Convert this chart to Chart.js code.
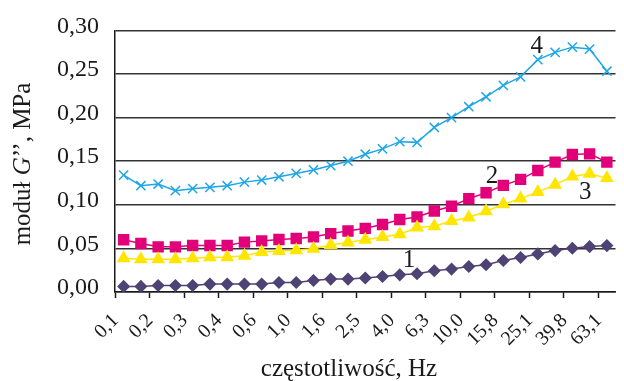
<!DOCTYPE html>
<html lang="pl">
<head>
<meta charset="utf-8">
<title>moduł G'' – częstotliwość</title>
<script src="https://cdn.jsdelivr.net/npm/chart.js@4.4.1/dist/chart.umd.min.js"></script>
<style>
  html, body { margin: 0; padding: 0; background: #ffffff; }
  #wrap { width: 624px; height: 381px; }
</style>
</head>
<body>
<div id="wrap"><canvas id="chart" width="624" height="381"></canvas></div>
<script>
// Frequency steps (Hz), 0.1 decade apart
const frequencies = [0.1, 0.13, 0.16, 0.2, 0.25, 0.32, 0.4, 0.5, 0.63, 0.79,
  1.0, 1.26, 1.58, 2.0, 2.51, 3.16, 3.98, 5.01, 6.31, 7.94,
  10.0, 12.6, 15.8, 20.0, 25.1, 31.6, 39.8, 50.1, 63.1];

// Axis labels shown on every second frequency step
const tickLabels = ['0,1', '0,2', '0,3', '0,4', '0,6', '1,0', '1,6', '2,5', '4,0',
  '6,3', '10,0', '15,8', '25,1', '39,8', '63,1'];

// Loss modulus G'' (MPa), curves 1–4
const series1 = [0.0064, 0.0064, 0.0075, 0.0075, 0.0075, 0.0091, 0.0091, 0.0091, 0.0091, 0.0109,
  0.0109, 0.0132, 0.0148, 0.0148, 0.0160, 0.0178, 0.0197, 0.0209, 0.0243, 0.0263,
  0.0292, 0.0312, 0.0361, 0.0395, 0.0437, 0.0475, 0.0502, 0.0521, 0.0532];
const series2 = [0.0600, 0.0557, 0.0518, 0.0518, 0.0534, 0.0534, 0.0534, 0.0572, 0.0586, 0.0602,
  0.0614, 0.0632, 0.0670, 0.0700, 0.0730, 0.0774, 0.0831, 0.0861, 0.0929, 0.0983,
  0.1071, 0.1139, 0.1223, 0.1291, 0.1394, 0.1489, 0.1576, 0.1584, 0.1489];
const series3 = [0.0386, 0.0375, 0.0375, 0.0375, 0.0386, 0.0398, 0.0398, 0.0416, 0.0458, 0.0469,
  0.0480, 0.0495, 0.0538, 0.0567, 0.0600, 0.0632, 0.0663, 0.0740, 0.0755, 0.0815,
  0.0854, 0.0926, 0.1006, 0.1071, 0.1146, 0.1231, 0.1325, 0.1356, 0.1306];
const series4 = [0.1340, 0.1219, 0.1238, 0.1162, 0.1185, 0.1200, 0.1219, 0.1260, 0.1284, 0.1321,
  0.1360, 0.1400, 0.1450, 0.1500, 0.1580, 0.1641, 0.1724, 0.1716, 0.1887, 0.2000,
  0.2125, 0.2239, 0.2369, 0.2467, 0.2665, 0.2748, 0.2808, 0.2786, 0.2532];

const curveNames = ['1', '2', '3', '4'];
const yTitleParts = [['moduł ', false], ['G', true], ['’’, MPa', false]];
const xTitle = 'częstotliwość, Hz';

const SERIF = "'Liberation Serif', 'DejaVu Serif', serif";
const INK = '#1a1a1a';

// Curve numbers, axis titles (with italic G) drawn on top of the chart
const annotate = {
  id: 'annotate',
  afterDraw(chart) {
    const ctx = chart.ctx;
    const xs = chart.scales.x, ys = chart.scales.y;
    ctx.save();
    ctx.fillStyle = INK;

    // curve numbers next to a chosen point of each curve
    ctx.font = '25px ' + SERIF;
    ctx.textAlign = 'center';
    ctx.textBaseline = 'middle';
    const tags = [
      [0, series1, 17, -8, -13],
      [1, series2, 21, 6, -16],
      [2, series3, 26, 13, 16],
      [3, series4, 24, -1, -13]
    ];
    tags.forEach(([n, data, i, dx, dy]) => {
      ctx.fillText(curveNames[n], xs.getPixelForValue(i) + dx, ys.getPixelForValue(data[i]) + dy);
    });

    // x axis title
    ctx.font = '25px ' + SERIF;
    ctx.textBaseline = 'alphabetic';
    ctx.fillText(xTitle, 349, 376);

    // y axis title, rotated, mixed upright/italic
    ctx.translate(23, 164);
    ctx.rotate(-Math.PI / 2);
    const fontFor = it => (it ? 'italic ' : '') + '25px ' + SERIF;
    let total = 0;
    yTitleParts.forEach(([t, it]) => { ctx.font = fontFor(it); total += ctx.measureText(t).width; });
    let x = -total / 2;
    ctx.textAlign = 'left';
    ctx.textBaseline = 'middle';
    yTitleParts.forEach(([t, it]) => {
      ctx.font = fontFor(it);
      ctx.fillText(t, x, 0);
      x += ctx.measureText(t).width;
    });
    ctx.restore();
  }
};

function lineSet(label, data, color, style, radius) {
  return {
    label, data,
    borderColor: color, backgroundColor: color,
    borderWidth: 1.5,
    pointStyle: style, pointRadius: radius,
    pointBackgroundColor: color, pointBorderColor: color, pointBorderWidth: 1.5,
    tension: 0, fill: false
  };
}

new Chart(document.getElementById('chart'), {
  type: 'line',
  data: {
    labels: frequencies,
    datasets: [
      lineSet(curveNames[0], series1, '#4e4374', 'rectRot', 5.5),
      lineSet(curveNames[2], series3, '#ffe600', 'triangle', 6.5),
      lineSet(curveNames[1], series2, '#e2007a', 'rect', 7),
      lineSet(curveNames[3], series4, '#1ea6e6', 'crossRot', 6.5)
    ]
  },
  options: {
    responsive: false,
    animation: false,
    devicePixelRatio: 1,
    layout: { padding: { top: 29, right: 0, left: 0, bottom: 0 } },
    plugins: { legend: { display: false }, tooltip: { enabled: false } },
    scales: {
      x: {
        type: 'category',
        offset: true,
        grid: {
          display: true,
          drawOnChartArea: false,
          offset: true,
          tickLength: 6,
          tickWidth: 1.5,
          tickColor: c => (c.index % 2 === 0 ? INK : 'rgba(0,0,0,0)')
        },
        border: { color: INK, width: 1.5 },
        ticks: {
          autoSkip: false,
          minRotation: 45,
          maxRotation: 45,
          padding: 11,
          labelOffset: -8,
          color: INK,
          font: { family: SERIF, size: 20 },
          callback: (v, i) => (i % 2 === 0 ? tickLabels[i / 2] : '')
        },
        afterFit: s => { s.height = 89; s.paddingLeft = 0; s.paddingRight = 0; }
      },
      y: {
        min: 0,
        max: 0.3,
        grid: { color: '#333333', lineWidth: 1.5, drawTicks: false },
        border: { color: INK, width: 1.5 },
        ticks: {
          stepSize: 0.05,
          padding: 16,
          labelOffset: -4,
          color: INK,
          font: { family: SERIF, size: 24 },
          callback: v => v.toFixed(2).replace('.', ',')
        },
        afterFit: s => { s.width = 115; }
      }
    }
  },
  plugins: [annotate]
});
</script>
</body>
</html>
